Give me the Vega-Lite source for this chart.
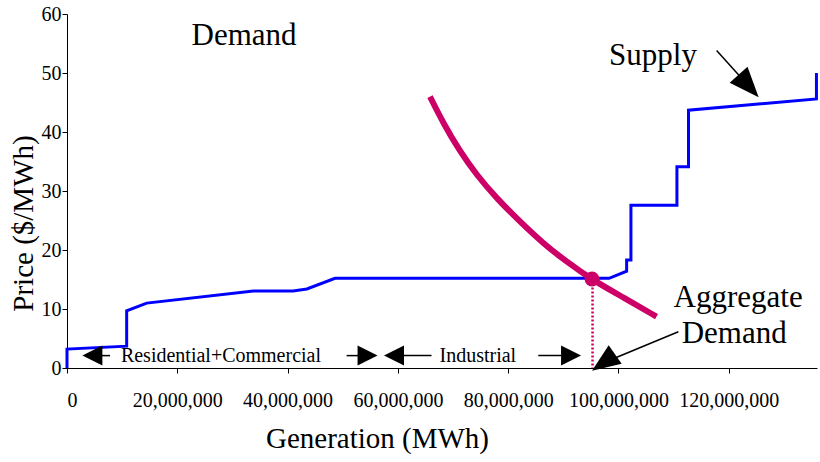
{
  "$schema": "https://vega.github.io/schema/vega-lite/v6.json",
  "width": 750,
  "height": 354,
  "autosize": {"type": "none"},
  "padding": {"left": 67, "top": 14, "right": 3, "bottom": 94},
  "background": "white",
  "config": {
    "view": {"stroke": null},
    "font": "Liberation Serif",
    "axis": {
      "grid": false,
      "domainColor": "black",
      "tickColor": "black",
      "labelColor": "black",
      "titleColor": "black",
      "labelFont": "Liberation Serif",
      "titleFont": "Liberation Serif",
      "labelFontSize": 20,
      "titleFontSize": 29,
      "titleFontWeight": "normal",
      "tickSize": 5
    }
  },
  "datasets": {
    "supply": [
      {"i": 1, "gen": 0, "price": 0},
      {"i": 2, "gen": 0, "price": 3.2},
      {"i": 3, "gen": 10820000, "price": 3.7},
      {"i": 4, "gen": 10820000, "price": 9.7},
      {"i": 5, "gen": 14450000, "price": 11.0},
      {"i": 6, "gen": 33800000, "price": 13.05},
      {"i": 7, "gen": 41000000, "price": 13.05},
      {"i": 8, "gen": 43500000, "price": 13.4},
      {"i": 9, "gen": 48600000, "price": 15.2},
      {"i": 10, "gen": 98300000, "price": 15.2},
      {"i": 11, "gen": 101480000, "price": 16.4},
      {"i": 12, "gen": 101480000, "price": 18.3},
      {"i": 13, "gen": 102260000, "price": 18.3},
      {"i": 14, "gen": 102260000, "price": 27.6},
      {"i": 15, "gen": 110600000, "price": 27.6},
      {"i": 16, "gen": 110600000, "price": 34.1},
      {"i": 17, "gen": 112700000, "price": 34.1},
      {"i": 18, "gen": 112700000, "price": 43.7},
      {"i": 19, "gen": 135900000, "price": 45.6},
      {"i": 20, "gen": 135900000, "price": 50.0}
    ],
    "demand": [
      {"gen": 65820000, "price": 46.0},
      {"gen": 68230000, "price": 41.5},
      {"gen": 71260000, "price": 36.7},
      {"gen": 74290000, "price": 32.7},
      {"gen": 77910000, "price": 28.76},
      {"gen": 82140000, "price": 24.8},
      {"gen": 86370000, "price": 21.1},
      {"gen": 90610000, "price": 18.0},
      {"gen": 95140000, "price": 15.0},
      {"gen": 101000000, "price": 11.9},
      {"gen": 106900000, "price": 8.7}
    ],
    "arrows": [
      {"gen": 4600000, "price": 2.1, "gen2": 7800000, "price2": 2.1},
      {"gen": 50700000, "price": 2.1, "gen2": 54500000, "price2": 2.1},
      {"gen": 59300000, "price": 2.1, "gen2": 66100000, "price2": 2.1},
      {"gen": 85460000, "price": 2.1, "gen2": 91400000, "price2": 2.1},
      {"gen": 117800000, "price": 53.8, "gen2": 123600000, "price2": 47.8},
      {"gen": 110860000, "price": 6.15, "gen2": 97300000, "price2": 0.9}
    ],
    "bigText": [
      {"gen": 32100000, "price": 54.75, "label": "Demand"},
      {"gen": 106260000, "price": 51.36, "label": "Supply"},
      {"gen": 121700000, "price": 10.4, "label": "Aggregate"},
      {"gen": 120980000, "price": 4.19, "label": "Demand"}
    ],
    "smallText": [
      {"gen": 27920000, "price": 1.07, "label": "Residential+Commercial"},
      {"gen": 74500000, "price": 1.07, "label": "Industrial"}
    ]
  },
  "layer": [
    {
      "mark": {"type": "rule", "color": "black", "strokeWidth": 1},
      "encoding": {"y": {"datum": 60, "type": "quantitative"}}
    },
    {
      "data": {"name": "supply"},
      "mark": {"type": "line", "color": "#0000FF", "strokeWidth": 3, "strokeJoin": "miter"},
      "encoding": {
        "x": {
          "field": "gen", "type": "quantitative",
          "scale": {"domain": [0, 136000000], "nice": false, "zero": false},
          "axis": {
            "title": "Generation (MWh)",
            "values": [0, 20000000, 40000000, 60000000, 80000000, 100000000, 120000000],
            "format": ",.0f",
            "labelPadding": 17,
            "labelAlign": {"condition": {"test": "datum.value === 0", "value": "left"}, "value": "center"},
            "titleX": 310,
            "titleY": 70,
            "titleBaseline": "middle",
            "titleAlign": "center"
          }
        },
        "y": {
          "field": "price", "type": "quantitative",
          "scale": {"domain": [0, 60], "nice": false},
          "axis": {
            "title": "Price ($/MWh)",
            "values": [0, 10, 20, 30, 40, 50, 60],
            "labelPadding": 1,
            "titleX": -44,
            "titleY": 209,
            "titleBaseline": "middle",
            "titleAlign": "center",
            "titleAngle": -90
          }
        },
        "order": {"field": "i", "type": "quantitative"}
      }
    },
    {
      "data": {"name": "demand"},
      "mark": {"type": "line", "color": "#CC0066", "strokeWidth": 6, "interpolate": "basis"},
      "encoding": {
        "x": {"field": "gen", "type": "quantitative"},
        "y": {"field": "price", "type": "quantitative"}
      }
    },
    {
      "data": {"values": [{"gen": 95300000, "price": 15.0, "price2": 0}]},
      "mark": {"type": "rule", "color": "#CC0066", "strokeWidth": 2.5, "strokeDash": [2, 2]},
      "encoding": {
        "x": {"field": "gen", "type": "quantitative"},
        "y": {"field": "price", "type": "quantitative"},
        "y2": {"field": "price2"}
      }
    },
    {
      "data": {"values": [{"gen": 95200000, "price": 15.08}]},
      "mark": {"type": "point", "shape": "circle", "filled": true, "color": "#CC0066", "opacity": 1, "size": 220},
      "encoding": {
        "x": {"field": "gen", "type": "quantitative"},
        "y": {"field": "price", "type": "quantitative"}
      }
    },
    {
      "data": {"name": "arrows"},
      "mark": {"type": "rule", "color": "black", "strokeWidth": 1.5},
      "encoding": {
        "x": {"field": "gen", "type": "quantitative"},
        "y": {"field": "price", "type": "quantitative"},
        "x2": {"field": "gen2"},
        "y2": {"field": "price2"}
      }
    },
    {
      "data": {"values": [{"gen": 4600000, "price": 2.1}, {"gen": 59300000, "price": 2.1}]},
      "mark": {"type": "point", "shape": "M1,-1L-1,0L1,1Z", "filled": true, "color": "black", "opacity": 1, "size": 400},
      "encoding": {
        "x": {"field": "gen", "type": "quantitative"},
        "y": {"field": "price", "type": "quantitative"}
      }
    },
    {
      "data": {"values": [{"gen": 54500000, "price": 2.1}, {"gen": 91400000, "price": 2.1}]},
      "mark": {"type": "point", "shape": "M-1,-1L1,0L-1,1Z", "filled": true, "color": "black", "opacity": 1, "size": 400},
      "encoding": {
        "x": {"field": "gen", "type": "quantitative"},
        "y": {"field": "price", "type": "quantitative"}
      }
    },
    {
      "data": {"values": [{"gen": 123600000, "price": 47.8}]},
      "mark": {"type": "point", "shape": "M-1,-0.8L1,0L-1,0.8Z", "angle": 48, "filled": true, "color": "black", "opacity": 1, "size": 900},
      "encoding": {
        "x": {"field": "gen", "type": "quantitative"},
        "y": {"field": "price", "type": "quantitative"}
      }
    },
    {
      "data": {"values": [{"gen": 97300000, "price": 0.9}]},
      "mark": {"type": "point", "shape": "M-1,-0.8L1,0L-1,0.8Z", "angle": 145, "filled": true, "color": "black", "opacity": 1, "size": 800},
      "encoding": {
        "x": {"field": "gen", "type": "quantitative"},
        "y": {"field": "price", "type": "quantitative"}
      }
    },
    {
      "data": {"name": "bigText"},
      "mark": {"type": "text", "font": "Liberation Serif", "fontSize": 31, "color": "black", "align": "center", "baseline": "alphabetic"},
      "encoding": {
        "x": {"field": "gen", "type": "quantitative"},
        "y": {"field": "price", "type": "quantitative"},
        "text": {"field": "label"}
      }
    },
    {
      "data": {"name": "smallText"},
      "mark": {"type": "text", "font": "Liberation Serif", "fontSize": 20, "color": "black", "align": "center", "baseline": "alphabetic"},
      "encoding": {
        "x": {"field": "gen", "type": "quantitative"},
        "y": {"field": "price", "type": "quantitative"},
        "text": {"field": "label"}
      }
    }
  ]
}
